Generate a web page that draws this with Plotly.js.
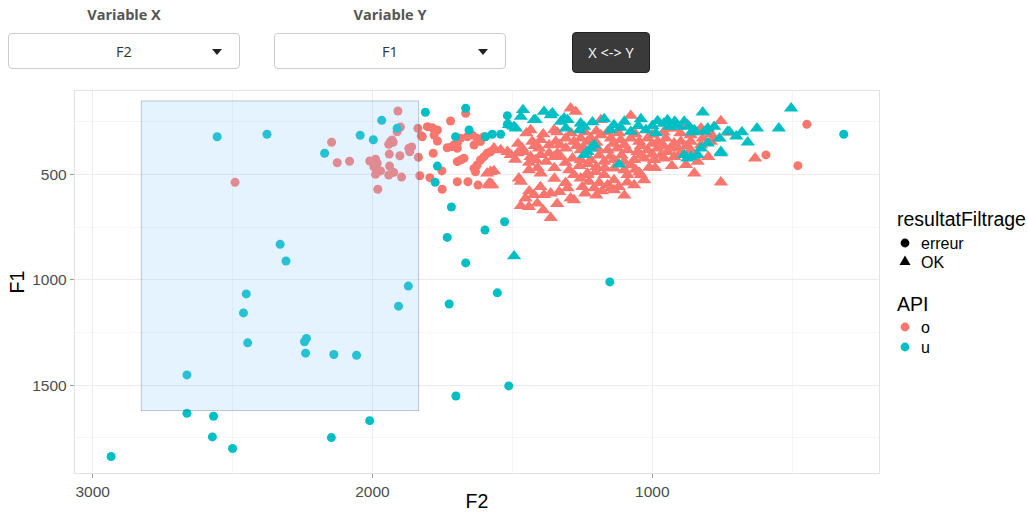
<!DOCTYPE html>
<html>
<head>
<meta charset="utf-8">
<script src="https://cdn.plot.ly/plotly-3.0.1.min.js"></script>
<style>
  html, body { margin:0; padding:0; background:#fff; width:1028px; height:512px; overflow:hidden; }
  #chart { position:absolute; left:0; top:0; width:1028px; height:512px; }
  .lbl { position:absolute; text-align:center; font-family:"Open Sans", Lato, sans-serif; font-weight:700; font-size:14.5px; color:#555; z-index:2; }
  .sel { position:absolute; box-sizing:border-box; border:1px solid #ccc; border-radius:4px; background:#fff; z-index:2;
         font-family:"Open Sans", Lato, sans-serif; font-size:14.5px; color:#333; }
  .sel span { position:absolute; left:0; right:0; top:50%; transform:translateY(-50%); text-align:center; }
  .caret { position:absolute; width:0; height:0; border-left:5px solid transparent; border-right:5px solid transparent; border-top:6px solid #222; top:15px; }
  .btn { position:absolute; box-sizing:border-box; background:#3a3a3a; border:1px solid #222; border-radius:4px; color:#fff; z-index:2;
         font-family:"Open Sans", Lato, sans-serif; font-size:14.5px; text-align:center; }
</style>
</head>
<body>
<div id="chart"></div>
<div class="lbl" style="left:8px;width:232px;top:5px;">Variable X</div>
<div class="sel" style="left:8px;top:33px;width:232px;height:36px;"><span>F2</span><i class="caret" style="left:203px;"></i></div>
<div class="lbl" style="left:274px;width:232px;top:5px;">Variable Y</div>
<div class="sel" style="left:274px;top:33px;width:232px;height:36px;"><span>F1</span><i class="caret" style="left:203px;"></i></div>
<div class="btn" style="left:572px;top:32px;width:78px;height:41px;line-height:39px;">X &lt;-&gt; Y</div>
<script>
const RED = '#F8766D', CYAN = '#00BFC4';

// API = o, resultatFiltrage = erreur
const oErrF2 = [2491,2146,2126,2082,1909,1900,1912,1942,1926,1936,1930,1940,1902,1870,1860,1867,1836,2010,1989,1983,1995,1989,1971,1939,1942,1924,1896,1981,1831,1838,1826,1822,1804,1786,1768,1780,1768,1721,1783,1752,1795,1751,1697,1733,1716,1697,1697,1667,1685,1661,1643,1626,1614,1602,1709,1697,1685,1673,1637,1632,1626,1614,1602,1590,1578,1659,1623,1637,1614,594,480,448];
const oErrF1 = [538,348,445,438,200,276,298,358,348,345,337,404,412,377,370,393,419,437,428,447,464,500,484,461,503,491,513,571,507,282,317,322,274,279,290,314,342,247,400,484,516,571,535,374,369,377,440,211,329,322,314,329,337,322,361,353,432,424,472,488,456,432,417,400,393,535,551,361,345,408,459,263];

// API = o, resultatFiltrage = OK
const oOkF2 = [1292,1274,755,633,755,850,1363,1077,1011,1047,1089,1029,1089,1137,1172,1208,1148,1202,1232,1578,1566,1590,1584,1572,826,940,1435,1351,1477,1399,1441,1297,1280,1578,1453,1423,1387,1363,1441,1411,1333,1303,1292,1280,1470,1435,1417,1399,1369,1351,1339,1327,1285,1256,1459,1429,1399,1369,1345,1309,1280,1256,1232,1405,1309,1256,1566,1542,1518,1506,1482,1465,1220,1184,1148,1113,1077,1047,1017,981,952,922,1244,1196,1160,1125,1089,1053,1017,981,946,910,863,826,791,1220,1172,1137,1101,1065,1029,994,958,922,1137,1077,1041,1160,1137,1065,1232,1256,1226,874,922,863,725,1184,800,838,898,863,1584,
  1450,1390,1340,1290,1240,1200,1160,1120,1060,1000,960,900,840,790,
  1480,1420,1330,1270,1200,1140,1100,1040,1000,960,930,880,820,780,
  1490,1440,1380,1310,1230,1190,1150,1110,1040,1000,970,900,850,
  1410,1350,1260,1200,1170,1100,1060,990,930,880,
  1350,1310,1250,1190,1120,1100,1200,1240,1180,1400,1440,1470,1390,1340];
const oOkF1 = [187,203,247,424,538,495,706,222,468,491,503,527,538,527,503,566,566,488,495,488,484,495,551,551,282,282,290,290,519,495,480,480,503,543,614,598,598,590,654,638,583,566,614,622,535,417,432,408,400,417,400,417,424,432,393,345,337,361,345,329,345,329,345,377,377,385,377,385,393,408,400,377,329,314,329,337,329,345,329,345,329,353,377,377,385,377,385,393,385,377,393,377,345,361,345,432,440,432,440,432,424,432,424,417,472,456,503,551,575,551,503,519,535,266,282,314,302,242,417,440,345,385,543,
  305,310,300,305,300,296,300,305,310,312,300,305,300,310,
  355,365,360,365,350,355,360,365,355,365,370,368,330,330,
  430,445,440,445,450,410,415,410,410,405,410,400,410,
  470,470,460,465,470,480,478,470,460,455,
  520,540,560,540,560,600,600,590,580,560,580,650,670,640];

// API = u, resultatFiltrage = erreur
const uErrF2 = [2555,2377,2171,2044,1997,1967,1912,1811,1768,1776,1718,1703,1733,1872,2451,2461,2446,2243,2236,2239,2138,2057,1907,1726,2663,2663,2568,2572,2500,2934,2147,2010,1702,2330,2309,1598,1528,1667,1554,1152,1513,1667,1655,1596,1572,1542,1518,1518,316];
const uErrF1 = [322,310,400,315,336,244,282,206,461,538,655,322,799,1030,1067,1157,1299,1294,1278,1348,1354,1358,1125,1115,1451,1633,1647,1745,1800,1838,1748,1668,1551,832,911,764,725,920,1062,1010,1503,187,290,322,310,310,222,263,310];

// API = u, resultatFiltrage = OK
const uOkF2 = [1494,1462,1387,1357,820,504,626,548,659,755,725,1041,981,1172,1214,1137,1113,940,904,868,802,731,1077,1023,987,886,875,838,755,1119,1363,1417,1470,1327,1303,1256,1244,1309,1512,1488,1232,1244,946,910,886,850,814,779,862,826,802,1220,1208,1423,1315,1494,
  1100,1050,960,920,860,700,680,760,1000,1150,1260];
const uOkF1 = [888,195,203,210,206,187,282,282,348,393,298,238,247,238,253,266,279,274,274,274,282,298,298,290,305,408,424,408,400,453,219,242,227,250,242,258,274,282,266,282,393,408,242,266,250,290,298,274,417,377,353,377,361,242,234,274,
  250,270,260,250,300,320,300,330,270,290,290];

// brush rectangle (F2 range, F1 range)
const brushF2 = [2826, 1835];
const brushF1 = [152, 1620];

const xTicks = [3000, 2000, 1000], xMinor = [2500, 1500, 500];
const yTicks = [500, 1000, 1500], yMinor = [250, 750, 1250, 1750];

const W = 1028, H = 512, M = {l:75, r:149, t:91, b:39};
const pw = W - M.l - M.r, ph = H - M.t - M.b;
const PX = x => (x - M.l) / pw, PY = y => (H - M.b - y) / ph;

function tr(x, y, color, symbol, size) {
  return {type:'scatter', mode:'markers', x:x, y:y, showlegend:false, hoverinfo:'skip',
          marker:{color:color, symbol:symbol, size:size, line:{width:0}}};
}
const data = [
  tr(oErrF2, oErrF1, RED, 'circle', 9),
  tr(oOkF2, oOkF1, RED, 'triangle-up', 12.5),
  tr(uErrF2, uErrF1, CYAN, 'circle', 9),
  tr(uOkF2, uOkF1, CYAN, 'triangle-up', 12.5)
];

const tickFont = {family:'Liberation Sans, Arial, sans-serif', size:15.5, color:'#4D4D4D'};
const titleFont = {family:'Liberation Sans, Arial, sans-serif', size:19.5, color:'#000'};

const shapes = [
  {type:'rect', xref:'x', yref:'y', x0:brushF2[0], x1:brushF2[1], y0:brushF1[0], y1:brushF1[1],
   fillcolor:'rgba(153,204,255,0.25)', line:{color:'rgba(0,51,102,0.25)', width:1}, layer:'above'}
];
// legend keys
function circ(cx, cy, r, col) {
  return {type:'circle', xref:'paper', yref:'paper', x0:PX(cx-r), x1:PX(cx+r), y0:PY(cy+r), y1:PY(cy-r),
          fillcolor:col, line:{width:0}, layer:'above'};
}
function tri(cx, cy, col) {
  const p = 'M' + PX(cx-5.5) + ',' + PY(cy+4) + ' L' + PX(cx+5.5) + ',' + PY(cy+4) + ' L' + PX(cx) + ',' + PY(cy-5.5) + ' Z';
  return {type:'path', xref:'paper', yref:'paper', path:p, fillcolor:col, line:{width:0}, layer:'above'};
}
shapes.push(circ(905, 243, 4.4, '#000'));
shapes.push(tri(905, 261, '#000'));
shapes.push(circ(905, 327, 4.4, RED));
shapes.push(circ(905, 347, 4.4, CYAN));

function ann(text, x, y, size) {
  return {text:text, xref:'paper', yref:'paper', x:PX(x), y:PY(y), xanchor:'left', yanchor:'middle', showarrow:false,
          font:{family:'Liberation Sans, Arial, sans-serif', size:size, color:'#000'}};
}
const annotations = [
  ann('resultatFiltrage', 895, 219, 19.5),
  ann('erreur', 919, 243, 16),
  ann('OK', 919, 262, 16),
  ann('API', 895, 304, 19.5),
  ann('o', 919, 327, 16),
  ann('u', 919, 347, 16)
];

const axBase = {showline:true, mirror:true, linecolor:'#E3E3E3', linewidth:1.2, zeroline:false,
  showgrid:true, gridcolor:'#EBEBEB', gridwidth:1.1, ticks:'outside', ticklen:4, tickwidth:1, tickcolor:'#9A9A9A',
  tickfont:tickFont, automargin:false, fixedrange:true};

const layout = {
  width:W, height:H, margin:M, paper_bgcolor:'#fff', plot_bgcolor:'#fff', showlegend:false,
  xaxis: Object.assign({}, axBase, {range:[3063, 190], tickmode:'array', tickvals:xTicks, ticktext:xTicks.map(String),
    minor:{tickmode:'array', tickvals:xMinor, showgrid:true, gridcolor:'#F3F3F3', gridwidth:0.8, ticks:''},
    title:{text:'F2', font:titleFont, standoff:4}}),
  yaxis: Object.assign({}, axBase, {range:[1916, 105], tickmode:'array', tickvals:yTicks, ticktext:yTicks.map(String),
    minor:{tickmode:'array', tickvals:yMinor, showgrid:true, gridcolor:'#F3F3F3', gridwidth:0.8, ticks:''},
    title:{text:'F1', font:titleFont, standoff:2}}),
  shapes:shapes, annotations:annotations
};

Plotly.newPlot('chart', data, layout, {displayModeBar:false, staticPlot:true});
</script>
</body>
</html>
